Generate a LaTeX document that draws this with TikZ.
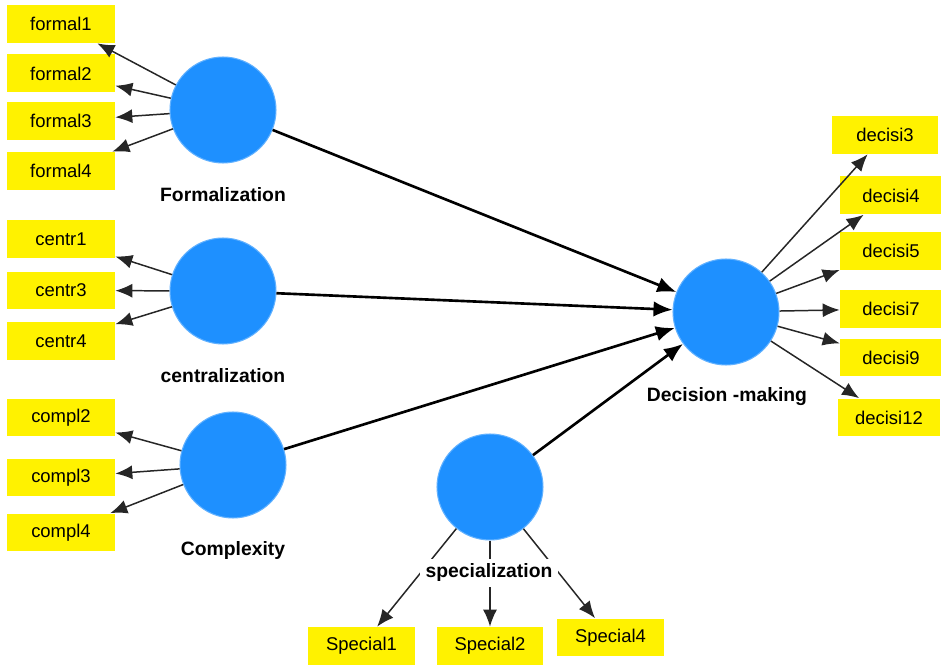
\documentclass[tikz,border=0pt]{standalone}
\usepackage{fontspec}
\setmainfont{Liberation Sans}
\usetikzlibrary{calc,arrows.meta}
\definecolor{lvblau}{RGB}{30,144,255}

\begin{document}
\begin{tikzpicture}[x=0.02cm,y=-0.02cm,
  latent/.style={circle,fill=lvblau,draw=lvblau!70!white,line width=0.6pt,minimum size=2.12cm,inner sep=0pt},
  indbox/.style={rectangle,fill=yellow,minimum width=2.16cm,minimum height=0.76cm,inner sep=0pt,font=\fontsize{10.5}{12}\selectfont},
  lvtext/.style={fill=white,inner sep=3pt,font=\bfseries\fontsize{11}{13}\selectfont},
  ladung/.style={-{Latex[length=3.4mm,width=2.8mm]},line width=0.85pt,draw=black!85},
  pfad/.style={-{Latex[length=3.8mm,width=3.1mm]},line width=1.5pt}]
\useasboundingbox (0,0) rectangle (941,665);

%KONSTRUKTE (Kreise)
\node [latent] (form) at (223,110) {};
\node [latent] (centr) at (223,291) {};
\node [latent] (compl) at (233,465) {};
\node [latent] (spec) at (490,487) {};
\node [latent] (dec) at (726,312) {};



%INDIKATOREN Formalization (links)
\node [indbox] (formal1) at (61,24) {formal1};
\node [indbox] (formal2) at (61,73.5) {formal2};
\node [indbox] (formal3) at (61,121) {formal3};
\node [indbox] (formal4) at (61,171) {formal4};

%INDIKATOREN centralization (links)
\node [indbox] (centr1) at (61,239) {centr1};
\node [indbox] (centr3) at (61,290.5) {centr3};
\node [indbox] (centr4) at (61,341) {centr4};

%INDIKATOREN Complexity (links)
\node [indbox] (compl2) at (61,417.5) {compl2};
\node [indbox] (compl3) at (61,477.5) {compl3};
\node [indbox] (compl4) at (61,532.5) {compl4};

%INDIKATOREN specialization (unten)
\node [indbox,minimum width=2.14cm] (special1) at (361.5,646) {Special1};
\node [indbox,minimum width=2.14cm] (special2) at (490,646) {Special2};
\node [indbox,minimum width=2.14cm] (special4) at (610.5,637.5) {Special4};

%INDIKATOREN Decision -making (rechts)
\node [indbox,minimum width=2.12cm] (decisi3) at (885,135) {decisi3};
\node [indbox,minimum width=2.04cm] (decisi4) at (891,195.5) {decisi4};
\node [indbox,minimum width=2.04cm] (decisi5) at (891,251) {decisi5};
\node [indbox,minimum width=2.04cm] (decisi7) at (891,309) {decisi7};
\node [indbox,minimum width=2.04cm] (decisi9) at (891,357.5) {decisi9};
\node [indbox,minimum width=2.04cm] (decisi12) at (889,417.5) {decisi12};



%LADUNGEN
\draw [ladung] (form) -- (formal1);
\draw [ladung] (form) -- (formal2);
\draw [ladung] (form) -- (formal3);
\draw [ladung] (form) -- (formal4);

\draw [ladung] (centr) -- (centr1);
\draw [ladung] (centr) -- (centr3);
\draw [ladung] (centr) -- (centr4);

\draw [ladung] (compl) -- (compl2);
\draw [ladung] (compl) -- (compl3);
\draw [ladung] (compl) -- (compl4);

\draw [ladung] (spec) -- (special1);
\draw [ladung] (spec) -- (special2);
\draw [ladung] (spec) -- (special4);

\draw [ladung] (dec) -- (decisi3);
\draw [ladung] (dec) -- (decisi4);
\draw [ladung] (dec) -- (decisi5);
\draw [ladung] (dec) -- (decisi7);
\draw [ladung] (dec) -- (decisi9);
\draw [ladung] (dec) -- (decisi12);



%STRUKTURPFADE
\draw [pfad] (form) -- (dec);
\draw [pfad] (centr) -- (dec);
\draw [pfad] (compl) -- (dec);
\draw [pfad] (spec) -- (dec);



%BESCHRIFTUNGEN
\node [lvtext] (formtext) at (223,195) {Formalization};
\node [lvtext] (centrtext) at (223,376) {centralization};
\node [lvtext] (compltext) at (233,551) {Complexity};
\node [lvtext] (spectext) at (489,573) {specialization};
\node [lvtext] (dectext) at (727,397) {Decision -making};

\end{tikzpicture}
\end{document}
